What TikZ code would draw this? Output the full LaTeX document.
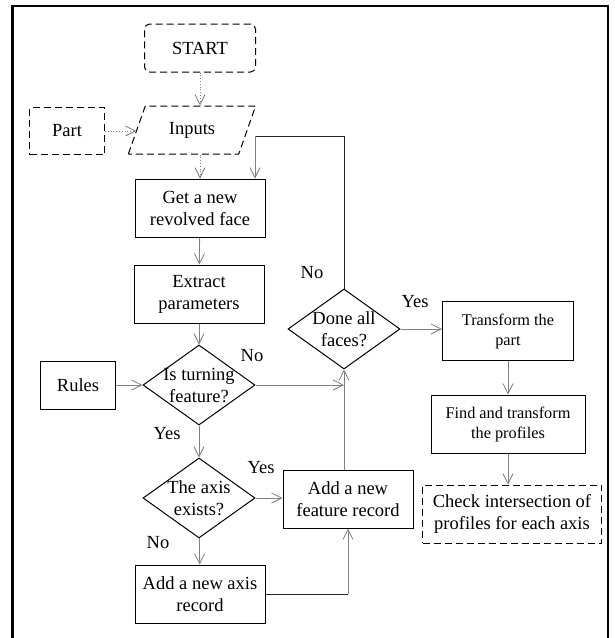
\documentclass[tikz,border=0pt]{standalone}
\usepackage{fontspec}
\setmainfont{Liberation Serif}
\usetikzlibrary{shapes.geometric, arrows.meta}
\tikzstyle{process} = [rectangle, draw=black, line width=1pt, minimum width=130, minimum height=58, inner sep=0, align=center, font=\fontsize{18.5}{22}\selectfont]
\tikzstyle{smallproc} = [process, font=\fontsize{16.3}{20}\selectfont]
\tikzstyle{dashbox} = [process, dash pattern=on 7pt off 4pt]
\tikzstyle{decision} = [diamond, draw=black, line width=1pt, minimum width=112, minimum height=80, inner sep=0]
\tikzstyle{dtext} = [align=center, inner sep=0, font=\fontsize{18.5}{22}\selectfont]
\tikzstyle{note} = [inner sep=0, font=\fontsize{18.5}{22}\selectfont]
\tikzstyle{arrow} = [black!50, line width=0.8pt, -{Straight Barb[length=10pt,width=10pt]}]
\tikzstyle{dotarrow} = [arrow, dotted]
\tikzstyle{line} = [black!85, line width=1pt]

\begin{document}
\begin{tikzpicture}[x=1pt,y=-1pt]
\useasboundingbox (0,0) rectangle (615,638);
\draw[line width=2.5pt] (12.5,638)--(12.5,6)--(608,6)--(608,638);

\draw (200,48)node[dashbox,rounded corners=5pt,minimum width=111,minimum height=48](start){START};
\draw (192,130)node[dashbox,trapezium,trapezium left angle=62.5,trapezium right angle=117.5,trapezium stretches=true,minimum width=128,minimum height=48](inputs){Inputs};
\draw (67,131)node[dashbox,minimum width=75,minimum height=47](part){Part};
\draw (200,208)node[process](get){Get a new\\revolved face};
\draw (199,294)node[process](extract){Extract\\parameters};
\draw (199,385)node[decision,label={[dtext]center:Is turning\\feature?}](turn){};
\draw (78,385)node[process,minimum width=75,minimum height=48](rules){Rules};
\draw (199,498)node[decision,label={[dtext]center:The axis\\exists?}](axis){};
\draw (200,594)node[process](axisrec){Add a new axis\\record};
\draw (348,499)node[process](feature){Add a new\\feature record};
\draw (344,329)node[decision,label={[dtext]center:Done all\\faces?}](done){};
\draw (508,331)node[smallproc,minimum width=131,minimum height=59](transform){Transform the\\part};
\draw (508,424)node[smallproc,minimum width=154](find){Find and transform\\the profiles};
\draw (512,514)node[dashbox,minimum width=179](check){Check intersection of\\profiles for each axis};

\node[note] (noturn) at (252,356) {No};
\node[note] (yesturn) at (167,434) {Yes};
\node[note] (yesaxis) at (261,468) {Yes};
\node[note] (noaxis) at (158,543) {No};
\node[note] (nodone) at (312,273) {No};
\node[note] (yesdone) at (415,302) {Yes};

\draw[dotarrow] (start.south) -- (start.south |- inputs.north);
\draw[dotarrow] (part.east) -- (part.east -| inputs.west);
\draw[dotarrow] (get.north |- inputs.south) -- (get.north);
\draw[arrow] (get) -- (extract);
\draw[arrow] (extract) -- (turn);
\draw[arrow] (rules) -- (turn);
\draw[arrow] (turn) -- (axis);
\draw[arrow] (axis) -- (axisrec);
\draw[arrow] (axis.east) -- (axis.east -| feature.west);
\draw[arrow] (turn.east) -- (turn.east -| done.south);
\draw[line] (axisrec.east) -- (axisrec.east -| feature.south);
\draw[arrow] (axisrec.east -| feature.south) -- (feature.south);
\draw[arrow] (feature.north -| done.south) -- (done.south);
\coordinate (loop) at (255,136);
\draw[line] (done.north) |- (loop);
\draw[arrow] (loop) -- (loop |- get.north);
\draw[arrow] (done.east) -- (done.east -| transform.west);
\draw[arrow] (transform) -- (find);
\draw[arrow] (find.south) -- (find.south |- check.north);
\end{tikzpicture}
\end{document}
